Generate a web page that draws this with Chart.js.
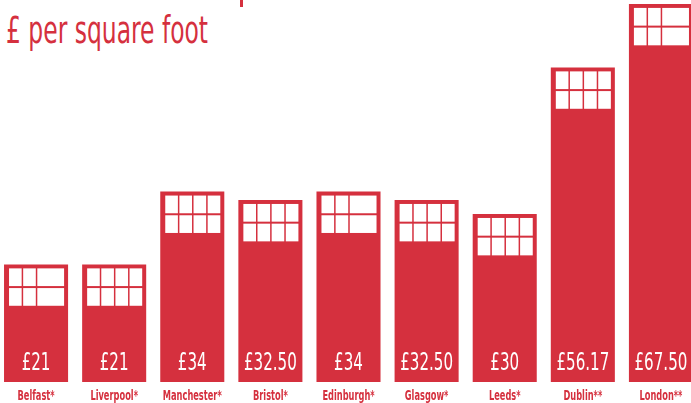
<!DOCTYPE html>
<html>
<head>
<meta charset="utf-8">
<script src="https://cdn.jsdelivr.net/npm/chart.js@4/dist/chart.umd.min.js"></script>
<style>
 html,body{margin:0;padding:0;background:#fff;overflow:hidden}
 body{width:691px;height:403px;position:relative}
 #title{position:absolute;left:6px;top:12px;font:37px/38px "DejaVu Sans Condensed",sans-serif;color:#d5303e;transform:scaleX(.704);transform-origin:left top;white-space:nowrap}
 #cut{position:absolute;left:240px;top:0;width:3px;height:7px;background:#d5303e}
 #wrap{position:absolute;left:-3px;top:0;width:703px;height:403px}
</style>
</head>
<body>
<div id="cut"></div>
<div id="title">£ per square foot</div>
<div id="wrap"><canvas id="chart"></canvas></div>
<script>
const cities=['Belfast*','Liverpool*','Manchester*','Bristol*','Edinburgh*','Glasgow*','Leeds*','Dublin**','London**'];
const rents=[21,21,34,32.5,34,32.5,30,56.17,67.5];
const rentLabels=['£21','£21','£34','£32.50','£34','£32.50','£30','£56.17','£67.50'];

const red='#d5303e';
const narrow='"DejaVu Sans Condensed",sans-serif';

// windows, price and city name drawn per bar (condensed by scaling the canvas)
const buildings={
 id:'buildings',
 afterDatasetsDraw(chart,args,opts){
  const ctx=chart.ctx, xs=chart.scales.x;
  chart.getDatasetMeta(0).data.forEach((bar,i)=>{
   const p=bar.getProps(['x','y','base','width'],true);
   const left=p.x-p.width/2;
   const inner=p.width-9, gap=1.5, colW=(inner-3*gap)/4;
   ctx.save();
   ctx.fillStyle='#fff';
   for(let r=0;r<2;r++){
    const y=p.y+4+r*19.7;
    if(opts.wide[i]){
     ctx.fillRect(left+5,y,colW,17.7);
     ctx.fillRect(left+5+colW+gap,y,colW,17.7);
     ctx.fillRect(left+5+2*(colW+gap),y,2*colW+gap,17.7);
    }else{
     for(let c=0;c<4;c++) ctx.fillRect(left+5+c*(colW+gap),y,colW,17.7);
    }
   }
   ctx.textAlign='center';
   ctx.textBaseline='alphabetic';
   ctx.save();
   ctx.translate(p.x,p.base-12);
   ctx.scale(.7,1);
   ctx.font='24px '+narrow;
   ctx.fillText(rentLabels[i],0,0);
   ctx.restore();
   ctx.translate(xs.getPixelForTick(i),400);
   ctx.scale(.68,1);
   ctx.fillStyle=red;
   ctx.font='bold 13.5px '+narrow;
   ctx.fillText(chart.data.labels[i],0,0);
   ctx.restore();
  });
 }
};

new Chart(document.getElementById('chart'),{
 type:'bar',
 data:{labels:cities,datasets:[{data:rents,backgroundColor:red,barPercentage:1,categoryPercentage:.82}]},
 options:{
  responsive:true,maintainAspectRatio:false,animation:false,
  layout:{padding:0},
  plugins:{legend:{display:false},tooltip:{enabled:false},
   buildings:{wide:[true,false,false,false,true,false,false,false,true]}},
  scales:{
   x:{grid:{display:false,drawTicks:false},border:{display:false},ticks:{display:false},
    afterFit:s=>{s.height=21;}},
   y:{display:false,min:0,max:68.2}
  }
 },
 plugins:[buildings]
});
</script>
</body>
</html>
